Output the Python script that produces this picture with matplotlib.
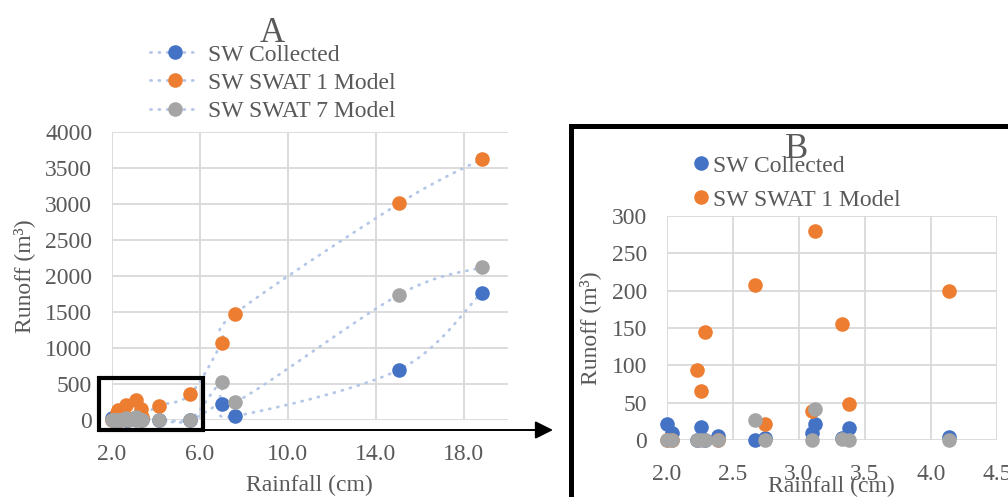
import numpy as np
import matplotlib
matplotlib.use("Agg")
import matplotlib.pyplot as plt
from matplotlib.lines import Line2D
from matplotlib.patches import Rectangle, FancyArrowPatch

# ---------------- data ----------------
rainfall = [2.00, 2.04, 2.23, 2.26, 2.29, 2.39, 2.67, 2.745, 3.10, 3.12,
            3.33, 3.38, 4.14, 5.56, 7.00, 7.60, 15.07, 18.80]
sw_collected = [22, 10, 0, 18, 0, 5, 0, 3, 9, 21, 3, 16, 4, 0, 225, 52, 700, 1765]
sw_swat1 = [0, 0, 94, 66, 144, 0, 208, 22, 39, 280, 155, 48, 200, 355, 1070, 1475, 3005, 3615]
sw_swat7 = [0, 0, 0, 0, 0, 0, 27, 0, 0, 41, 1, 0, 0, 5, 520, 245, 1740, 2115]

series_names = ["SW Collected", "SW SWAT 1 Model", "SW SWAT 7 Model"]
series_colors = ["#4472C4", "#ED7D31", "#A5A5A5"]

xticks_a = [2.0, 6.0, 10.0, 14.0, 18.0]
yticks_a = [0, 500, 1000, 1500, 2000, 2500, 3000, 3500, 4000]
xticks_b = [2.0, 2.5, 3.0, 3.5, 4.0, 4.5]
yticks_b = [0, 50, 100, 150, 200, 250, 300]

TXT = "#595959"
GRID = "#D9D9D9"
LINEC = "#B4C7E7"
FONT = "Liberation Serif"
plt.rcParams["font.family"] = [FONT, "DejaVu Serif"]

W, H = 1008, 497
fig = plt.figure(figsize=(W / 100, H / 100), dpi=100)


def px_rect(l, t, r, b):
    return [l / W, 1 - b / H, (r - l) / W, (b - t) / H]


axA = fig.add_axes(px_rect(111.7, 131.5, 508, 420))
axB = fig.add_axes(px_rect(666.7, 216, 996.7, 440))

DOTS = (0, (0.4, 2.6))


def smooth_curve(xs, ys, xlim, ylim, wpx, hpx, n=24):
    order = np.argsort(xs, kind="stable")
    X = (np.asarray(xs, float)[order] - xlim[0]) / (xlim[1] - xlim[0]) * wpx
    Y = (np.asarray(ys, float)[order] - ylim[0]) / (ylim[1] - ylim[0]) * hpx
    P = np.column_stack([X, Y])
    out = [P[0]]
    m = len(P)
    t = np.linspace(0, 1, n)[1:, None]
    for i in range(m - 1):
        p0 = P[i - 1] if i > 0 else P[i]
        p1, p2 = P[i], P[i + 1]
        p3 = P[i + 2] if i + 2 < m else P[i + 1]
        c1 = p1 + (p2 - p0) / 6
        c2 = p2 - (p3 - p1) / 6
        seg = ((1 - t) ** 3) * p1 + 3 * ((1 - t) ** 2) * t * c1 + 3 * (1 - t) * t ** 2 * c2 + t ** 3 * p2
        out.extend(seg)
    out = np.array(out)
    xo = out[:, 0] / wpx * (xlim[1] - xlim[0]) + xlim[0]
    yo = out[:, 1] / hpx * (ylim[1] - ylim[0]) + ylim[0]
    return xo, yo


def style_axes(ax, xlim, ylim, xt, yt):
    ax.set_xlim(*xlim)
    ax.set_ylim(*ylim)
    ax.set_xticks(xt)
    ax.set_yticks(yt)
    ax.set_xticklabels([f"{v:.1f}" for v in xt])
    ax.set_yticklabels([f"{v:d}" for v in yt])
    for s in ax.spines.values():
        s.set_visible(False)
    ax.grid(True, color=GRID, lw=1.3)
    ax.set_axisbelow(True)
    ax.tick_params(length=0, labelsize=17, labelcolor=TXT)
    ax.tick_params(axis="x", pad=17)
    ax.tick_params(axis="y", pad=14)
    for lab in ax.get_xticklabels() + ax.get_yticklabels():
        lab.set_fontfamily(FONT)


# ---------------- Panel A ----------------
xlimA, ylimA = (2.0, 20.0), (0, 4000)
style_axes(axA, xlimA, ylimA, xticks_a, yticks_a)
all_series = [sw_collected, sw_swat1, sw_swat7]
for ys in all_series:
    xs_s, ys_s = smooth_curve(rainfall, ys, xlimA, ylimA, 396.3, 288.5)
    axA.plot(xs_s, ys_s, color=LINEC, lw=2.0, linestyle=DOTS,
             dash_capstyle="round", zorder=2, clip_on=False)
for ys, c in zip(all_series, series_colors):
    axA.plot(rainfall, ys, linestyle="none", marker="o", ms=10.5, mfc=c, mec=c,
             mew=0, zorder=3, clip_on=False)
axA.set_xlabel("Rainfall (cm)", fontsize=17, color=TXT, labelpad=7.5)
axA.set_ylabel("Runoff (m³)", fontsize=17, color=TXT, labelpad=7)

handlesA = [Line2D([0], [0], color=LINEC, lw=2.0, linestyle=DOTS,
                   dash_capstyle="round", marker="o", ms=10.5, mfc=c, mec=c, mew=0)
            for c in series_colors]
legA = fig.legend(handlesA, series_names, loc="upper left",
                  bbox_to_anchor=(150 / W, 1 - 44 / H), frameon=False,
                  fontsize=17, handlelength=2.1, handletextpad=0.35,
                  labelspacing=0.28, borderpad=0, borderaxespad=0)
for t in legA.get_texts():
    t.set_color(TXT)
fig.text(272 / W, 1 - 33 / H, "A", fontsize=25, color=TXT, ha="center", va="center")

# ---------------- Panel B ----------------
xlimB, ylimB = (2.0, 4.5), (0, 300)
style_axes(axB, xlimB, ylimB, xticks_b, yticks_b)
rain_arr = np.asarray(rainfall)
maskB = rain_arr <= xlimB[1]
for ys, c in zip(all_series, series_colors):
    ya = np.asarray(ys)
    axB.plot(rain_arr[maskB], ya[maskB], linestyle="none", marker="o", ms=10.5,
             mfc=c, mec=c, mew=0, zorder=3, clip_on=False)
axB.set_xlabel("Rainfall (cm)", fontsize=17, color=TXT, labelpad=-6.5)
axB.set_ylabel("Runoff (m³)", fontsize=17, color=TXT, labelpad=8)

handlesB = [Line2D([0], [0], linestyle="none", marker="o", ms=10.5, mfc=c, mec=c, mew=0)
            for c in series_colors[:2]]
legB = fig.legend(handlesB, series_names[:2], loc="upper left",
                  bbox_to_anchor=(694 / W, 1 - 155 / H), frameon=False,
                  fontsize=17, handlelength=0.6, handletextpad=0.2,
                  labelspacing=0.53, borderpad=0, borderaxespad=0)
for t in legB.get_texts():
    t.set_color(TXT)
fig.text(797 / W, 1 - 150 / H, "B", fontsize=25, color=TXT, ha="center", va="center")

# ---------------- frames and arrow ----------------
fig.add_artist(Rectangle((570.5 / W, -0.05), 1.0, 1 - 125.5 / H + 0.05,
                         transform=fig.transFigure, fill=False, ec="black", lw=3.6))
fig.add_artist(Rectangle((99 / W, 1 - 429.7 / H), (202.7 - 99) / W, (429.7 - 378) / H,
                         transform=fig.transFigure, fill=False, ec="black", lw=3.0))
fig.add_artist(FancyArrowPatch((202.7 / W, 1 - 430 / H), (553 / W, 1 - 430 / H),
                               transform=fig.transFigure,
                               arrowstyle="-|>,head_length=0.54,head_width=0.27",
                               mutation_scale=20, color="black", lw=1.4,
                               shrinkA=0, shrinkB=0))

fig.savefig("out.png", dpi=100)
